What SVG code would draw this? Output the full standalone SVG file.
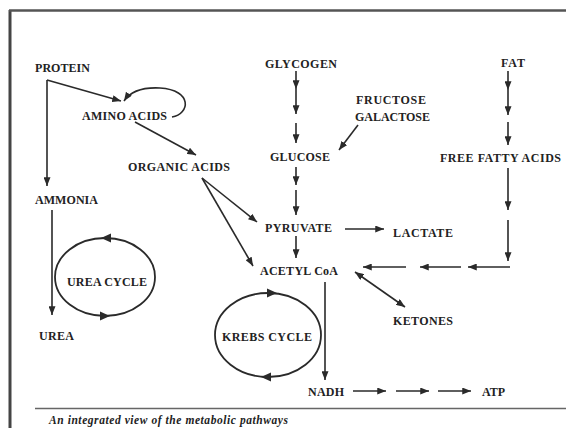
<svg xmlns="http://www.w3.org/2000/svg" width="566" height="428" viewBox="0 0 566 428">
<style>
.t{font-family:"Liberation Serif","Times New Roman",serif;font-weight:bold;font-size:12px;fill:#222}
.cap{font-family:"Liberation Serif","Times New Roman",serif;font-weight:bold;font-style:italic;font-size:11.5px;fill:#222}
.c{fill:none;stroke:#2a2a2a;stroke-width:1.6}
.a{marker-end:url(#ah)}
.m{marker-mid:url(#ah);marker-end:url(#ah)}
.d{marker-start:url(#ah);marker-end:url(#ah)}
.h{fill:#2a2a2a}
.cyc{fill:none;stroke:#2a2a2a;stroke-width:1.8}
</style>
<defs>
<marker id="ah" viewBox="0 0 10 8" refX="10" refY="4" markerWidth="9" markerHeight="7" markerUnits="userSpaceOnUse" orient="auto-start-reverse">
<path d="M0,0 L10,4 L0,8 z" fill="#2a2a2a"/>
</marker>
</defs>
<rect width="566" height="428" fill="#fff"/>
<g id="frame">
<line x1="10" y1="10" x2="10" y2="428" stroke="#444" stroke-width="3"/>
<line x1="9" y1="10.5" x2="566" y2="10.5" stroke="#555" stroke-width="2.5"/>
<line x1="35" y1="408.5" x2="566" y2="408.5" stroke="#666" stroke-width="1.5"/>
</g>
<g id="connectors">
<path class="c a" d="M47,80 L121,101"/>
<path class="c a" d="M47,80 L47,186"/>
<path class="c a" d="M172,117 C190,114 193,90 160,88 C141,87 130,92 124,101"/>
<path class="c a" d="M135,122 L196,155"/>
<path class="c a" d="M202,178 L257,222"/>
<path class="c a" d="M202,178 L253,266"/>
<path class="c m" d="M296,71 L296,89 L296,114"/>
<path class="c a" d="M296,123 L296,143"/>
<path class="c a" d="M358,125 L339,150"/>
<path class="c a" d="M296,167 L296,185"/>
<path class="c a" d="M296,190 L296,215"/>
<path class="c a" d="M296,236 L296,258"/>
<path class="c a" d="M345,229 L384,229"/>
<path class="c m" d="M508,71 L508,90 L508,115"/>
<path class="c a" d="M508,122 L508,145"/>
<path class="c a" d="M508,168 L508,210"/>
<path class="c a" d="M508,220 L508,261"/>
<path class="c a" d="M510,267 L468,267"/>
<path class="c a" d="M461,267 L420,267"/>
<path class="c a" d="M406,267 L363,267"/>
<path class="c d" d="M355,272 L405,307"/>
<path class="c a" d="M325,282 L325,380"/>
<path class="c a" d="M353,391 L386,391"/>
<path class="c a" d="M396,391 L429,391"/>
<path class="c a" d="M438,391 L471,391"/>
<path class="c a" d="M52,210 L52,315"/>
</g>
<g id="protein"><text class="t" x="35" y="72" textLength="55">PROTEIN</text></g>
<g id="amino-acids"><text class="t" x="82" y="120" textLength="85">AMINO ACIDS</text></g>
<g id="organic-acids"><text class="t" x="128" y="171" textLength="102">ORGANIC ACIDS</text></g>
<g id="ammonia"><text class="t" x="35" y="204" textLength="63">AMMONIA</text></g>
<g id="urea"><text class="t" x="39" y="340" textLength="35">UREA</text></g>
<g id="urea-cycle">
<ellipse class="cyc" cx="105" cy="277" rx="50" ry="39"/>
<path class="h" d="M101,238 L111,233.5 L111,242.5 z"/>
<path class="h" d="M110,316 L100,311.5 L100,320.5 z"/>
<text class="t" x="67" y="286" textLength="80">UREA CYCLE</text>
</g>
<g id="glycogen"><text class="t" x="265" y="68" textLength="72">GLYCOGEN</text></g>
<g id="fructose-galactose">
<text class="t" x="356" y="104" textLength="70">FRUCTOSE</text>
<text class="t" x="355" y="121" textLength="75">GALACTOSE</text>
</g>
<g id="glucose"><text class="t" x="270" y="161" textLength="60">GLUCOSE</text></g>
<g id="pyruvate"><text class="t" x="265" y="232" textLength="67">PYRUVATE</text></g>
<g id="lactate"><text class="t" x="393" y="237" textLength="60">LACTATE</text></g>
<g id="acetyl-coa"><text class="t" x="260" y="275" textLength="78">ACETYL CoA</text></g>
<g id="ketones"><text class="t" x="393" y="325" textLength="60">KETONES</text></g>
<g id="krebs-cycle">
<ellipse class="cyc" cx="268" cy="335" rx="53" ry="42"/>
<path class="h" d="M277,293 L267,288.5 L267,297.5 z"/>
<path class="h" d="M261,377 L271,372.5 L271,381.5 z"/>
<text class="t" x="222" y="341" textLength="90">KREBS CYCLE</text>
</g>
<g id="fat"><text class="t" x="501" y="67" textLength="24">FAT</text></g>
<g id="free-fatty-acids"><text class="t" x="440" y="162" textLength="121">FREE FATTY ACIDS</text></g>
<g id="nadh"><text class="t" x="308" y="396" textLength="36">NADH</text></g>
<g id="atp"><text class="t" x="482" y="396" textLength="23">ATP</text></g>
<g id="caption"><text class="cap" x="49" y="424" textLength="239">An integrated view of the metabolic pathways</text></g>
</svg>
